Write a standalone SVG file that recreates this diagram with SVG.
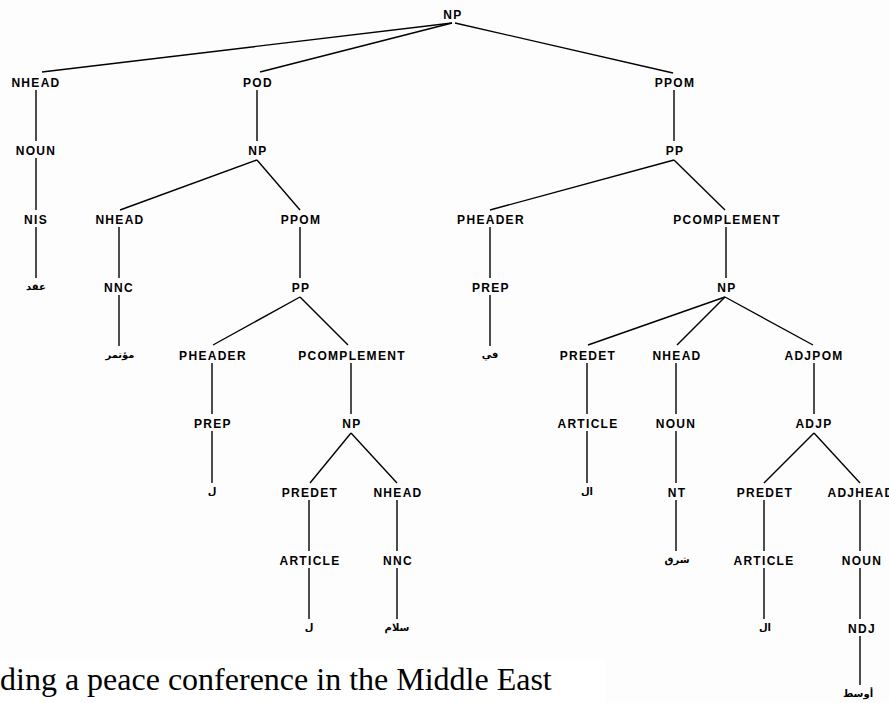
<svg xmlns="http://www.w3.org/2000/svg" width="889" height="703" viewBox="0 0 889 703">
  <style>
    .lbl { font-family: "Liberation Sans", Arial, sans-serif; font-weight: bold; font-size: 12px; letter-spacing: 1.3px; text-anchor: middle; fill: #000; }
    .ar { font-family: "DejaVu Sans", "Noto Sans", sans-serif; font-weight: bold; font-size: 10px; text-anchor: middle; fill: #000; }
    .cap { font-family: "Liberation Serif", "Times New Roman", serif; font-size: 32px; fill: #000; }
    #edges line { stroke: #000; stroke-width: 1.4; }
  </style>

  <!-- page background; caption strip is plain white -->
  <rect x="0" y="0" width="889" height="703" fill="#fdfdfd"/>
  <rect x="0" y="660" width="605" height="43" fill="#ffffff"/>

  <!-- tree branches -->
  <g id="edges">
    <!-- root NP -->
    <line x1="452" y1="23" x2="42" y2="72"/>
    <line x1="452" y1="23" x2="260" y2="72"/>
    <line x1="455" y1="23" x2="673" y2="73"/>
    <!-- NHEAD / NOUN / NIS chain -->
    <line x1="36" y1="90" x2="36" y2="141"/>
    <line x1="36" y1="158" x2="36" y2="210"/>
    <line x1="36" y1="227" x2="36" y2="278"/>
    <!-- POD -> NP -->
    <line x1="257" y1="90" x2="257" y2="141"/>
    <line x1="257" y1="160" x2="120" y2="210"/>
    <line x1="257" y1="160" x2="300" y2="210"/>
    <line x1="119" y1="227" x2="119" y2="278"/>
    <line x1="119" y1="295" x2="119" y2="346"/>
    <line x1="300" y1="227" x2="300" y2="278"/>
    <line x1="300" y1="297" x2="213" y2="345"/>
    <line x1="300" y1="297" x2="348" y2="345"/>
    <line x1="212" y1="363" x2="212" y2="414"/>
    <line x1="212" y1="431" x2="212" y2="483"/>
    <line x1="351" y1="363" x2="351" y2="414"/>
    <line x1="351" y1="433" x2="310" y2="483"/>
    <line x1="351" y1="433" x2="397" y2="483"/>
    <line x1="309" y1="500" x2="309" y2="551"/>
    <line x1="309" y1="568" x2="309" y2="619"/>
    <line x1="397" y1="500" x2="397" y2="551"/>
    <line x1="397" y1="568" x2="397" y2="619"/>
    <!-- PPOM -> PP (right) -->
    <line x1="674" y1="90" x2="674" y2="141"/>
    <line x1="674" y1="160" x2="490" y2="210"/>
    <line x1="674" y1="160" x2="725" y2="210"/>
    <line x1="490" y1="227" x2="490" y2="278"/>
    <line x1="490" y1="295" x2="490" y2="346"/>
    <line x1="726" y1="227" x2="726" y2="278"/>
    <line x1="725" y1="297" x2="588" y2="345"/>
    <line x1="725" y1="297" x2="677" y2="345"/>
    <line x1="725" y1="297" x2="813" y2="345"/>
    <line x1="587" y1="363" x2="587" y2="414"/>
    <line x1="587" y1="431" x2="587" y2="483"/>
    <line x1="676" y1="363" x2="676" y2="414"/>
    <line x1="676" y1="431" x2="676" y2="483"/>
    <line x1="676" y1="500" x2="676" y2="551"/>
    <line x1="814" y1="363" x2="814" y2="414"/>
    <line x1="814" y1="433" x2="764" y2="483"/>
    <line x1="814" y1="433" x2="860" y2="483"/>
    <line x1="764" y1="500" x2="764" y2="551"/>
    <line x1="764" y1="568" x2="764" y2="619"/>
    <line x1="860" y1="500" x2="860" y2="551"/>
    <line x1="860" y1="568" x2="860" y2="619"/>
    <line x1="860" y1="636" x2="860" y2="685"/>
  </g>

  <!-- root -->
  <g id="n-root-np"><text class="lbl" x="453" y="18.5">NP</text></g>

  <!-- left branch -->
  <g id="n-nhead-1"><text class="lbl" x="36" y="86.5">NHEAD</text></g>
  <g id="n-noun-1"><text class="lbl" x="36" y="154.5">NOUN</text></g>
  <g id="n-nis"><text class="lbl" x="36" y="223.5">NIS</text></g>
  <g id="n-leaf-aqd"><text class="ar" x="36" y="290">عقد</text></g>

  <!-- POD branch -->
  <g id="n-pod"><text class="lbl" x="258" y="86.5">POD</text></g>
  <g id="n-np-2"><text class="lbl" x="258" y="154.5">NP</text></g>
  <g id="n-nhead-2"><text class="lbl" x="120" y="223.5">NHEAD</text></g>
  <g id="n-nnc-1"><text class="lbl" x="119" y="291.5">NNC</text></g>
  <g id="n-leaf-mutamar"><text class="ar" x="120" y="358">مؤتمر</text></g>
  <g id="n-ppom-2"><text class="lbl" x="301" y="223.5">PPOM</text></g>
  <g id="n-pp-2"><text class="lbl" x="301" y="291.5">PP</text></g>
  <g id="n-pheader-2"><text class="lbl" x="213" y="359.5">PHEADER</text></g>
  <g id="n-prep-2"><text class="lbl" x="213" y="427.5">PREP</text></g>
  <g id="n-leaf-li"><text class="ar" x="212" y="495">ل</text></g>
  <g id="n-pcomp-2"><text class="lbl" x="352" y="359.5">PCOMPLEMENT</text></g>
  <g id="n-np-3"><text class="lbl" x="352" y="427.5">NP</text></g>
  <g id="n-predet-2"><text class="lbl" x="310" y="496.5">PREDET</text></g>
  <g id="n-article-2"><text class="lbl" x="310" y="564.5">ARTICLE</text></g>
  <g id="n-leaf-al-2"><text class="ar" x="309" y="631">ل</text></g>
  <g id="n-nhead-3"><text class="lbl" x="398" y="496.5">NHEAD</text></g>
  <g id="n-nnc-2"><text class="lbl" x="398" y="564.5">NNC</text></g>
  <g id="n-leaf-salam"><text class="ar" x="397" y="631">سلام</text></g>

  <!-- right PPOM branch -->
  <g id="n-ppom-1"><text class="lbl" x="675" y="86.5">PPOM</text></g>
  <g id="n-pp-1"><text class="lbl" x="675" y="154.5">PP</text></g>
  <g id="n-pheader-1"><text class="lbl" x="491" y="223.5">PHEADER</text></g>
  <g id="n-prep-1"><text class="lbl" x="491" y="291.5">PREP</text></g>
  <g id="n-leaf-fi"><text class="ar" x="490" y="358">في</text></g>
  <g id="n-pcomp-1"><text class="lbl" x="727" y="223.5">PCOMPLEMENT</text></g>
  <g id="n-np-4"><text class="lbl" x="727" y="291.5">NP</text></g>
  <g id="n-predet-1"><text class="lbl" x="588" y="359.5">PREDET</text></g>
  <g id="n-article-1"><text class="lbl" x="588" y="427.5">ARTICLE</text></g>
  <g id="n-leaf-al-1"><text class="ar" x="587" y="495">ال</text></g>
  <g id="n-nhead-4"><text class="lbl" x="677" y="359.5">NHEAD</text></g>
  <g id="n-noun-2"><text class="lbl" x="676" y="427.5">NOUN</text></g>
  <g id="n-nt"><text class="lbl" x="677" y="496.5">NT</text></g>
  <g id="n-leaf-sharq"><text class="ar" x="677" y="563">شرق</text></g>
  <g id="n-adjpom"><text class="lbl" x="814" y="359.5">ADJPOM</text></g>
  <g id="n-adjp"><text class="lbl" x="814" y="427.5">ADJP</text></g>
  <g id="n-predet-3"><text class="lbl" x="765" y="496.5">PREDET</text></g>
  <g id="n-article-3"><text class="lbl" x="764" y="564.5">ARTICLE</text></g>
  <g id="n-leaf-al-3"><text class="ar" x="765" y="631">ال</text></g>
  <g id="n-adjhead"><text class="lbl" x="861" y="496.5">ADJHEAD</text></g>
  <g id="n-noun-3"><text class="lbl" x="862" y="564.5">NOUN</text></g>
  <g id="n-ndj"><text class="lbl" x="862" y="632.5">NDJ</text></g>
  <g id="n-leaf-awsat"><text class="ar" x="858" y="697">أوسط</text></g>

  <!-- caption line -->
  <text class="cap" x="0" y="690">ding a peace conference in the Middle East</text>
</svg>
